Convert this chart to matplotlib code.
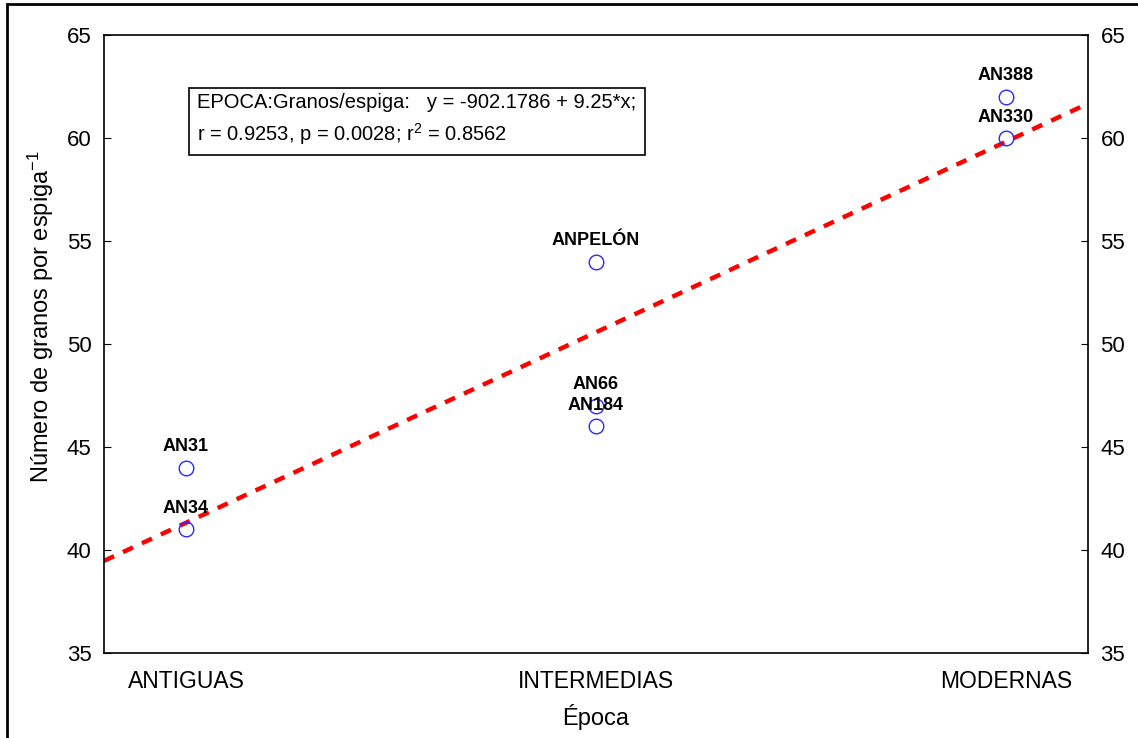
import numpy as np
import matplotlib.pyplot as plt
from matplotlib.patches import Rectangle

plt.rcParams['font.family'] = ['Liberation Sans', 'DejaVu Sans']
plt.rcParams['mathtext.fontset'] = 'custom'
plt.rcParams['mathtext.rm'] = 'Liberation Sans'
plt.rcParams['mathtext.it'] = 'Liberation Sans'

# data
categories = ['ANTIGUAS', 'INTERMEDIAS', 'MODERNAS']
cat_pos = [1, 2, 3]
point_x = [1, 1, 2, 2, 2, 3, 3]
point_y = [44, 41, 54, 47, 46, 62, 60]
point_labels = ['AN31', 'AN34', 'ANPELÓN', 'AN66', 'AN184', 'AN388', 'AN330']
y_ticks = [35, 40, 45, 50, 55, 60, 65]

fig = plt.figure(figsize=(11.38, 7.38), dpi=100)
ax = fig.add_axes([104 / 1138, 1 - 653 / 738, (1088 - 104) / 1138, (653 - 35) / 738])

# outer frame
fig.patches.append(Rectangle((7 / 1138, -0.1), 1.2, 1 - 4 / 738 + 0.1, transform=fig.transFigure,
                             fill=False, edgecolor='black', linewidth=2))

xlim = (0.8, 3.2)

# linear fit across categories
slope, intercept = np.polyfit(point_x, point_y, 1)
xx = np.array(xlim)
ax.plot(xx, intercept + slope * xx, color='red', linestyle=(0, (2.5, 2.2)), linewidth=3.2, zorder=2)

ax.plot(point_x, point_y, 'o', markerfacecolor='none', markeredgecolor='#2a2aff',
        markersize=10.5, markeredgewidth=1.0, zorder=3)

for x, y, lab in zip(point_x, point_y, point_labels):
    ax.annotate(lab, (x, y), xytext=(0, 15), textcoords='offset points',
                ha='center', va='center', fontsize=13, fontweight='bold', zorder=4)

ax.set_xlim(*xlim)
ax.set_ylim(35, 65)
ax.set_xticks(cat_pos)
ax.set_xticklabels(categories, fontsize=16.5)
ax.tick_params(axis='x', length=0, pad=12)
ax.set_yticks(y_ticks)
ax.tick_params(axis='y', direction='in', length=5, labelsize=16, pad=9,
               left=True, right=True, labelleft=True, labelright=True)
for s in ax.spines.values():
    s.set_linewidth(1.2)

ax.set_xlabel('Época', fontsize=17, labelpad=8)
ax.set_ylabel('Número de granos por espiga$^{-1}$', fontsize=17)
ax.yaxis.set_label_coords(-0.049, 0.545)

ax.text(0.095, 0.862,
        'EPOCA:Granos/espiga:   y = -902.1786 + 9.25*x;\nr = 0.9253, p = 0.0028; r$^2$ = 0.8562',
        transform=ax.transAxes, fontsize=14.5, va='center', ha='left', linespacing=1.45,
        bbox=dict(boxstyle='square,pad=0.4', facecolor='white', edgecolor='black', linewidth=1.2))

fig.savefig('out.png', dpi=100)
